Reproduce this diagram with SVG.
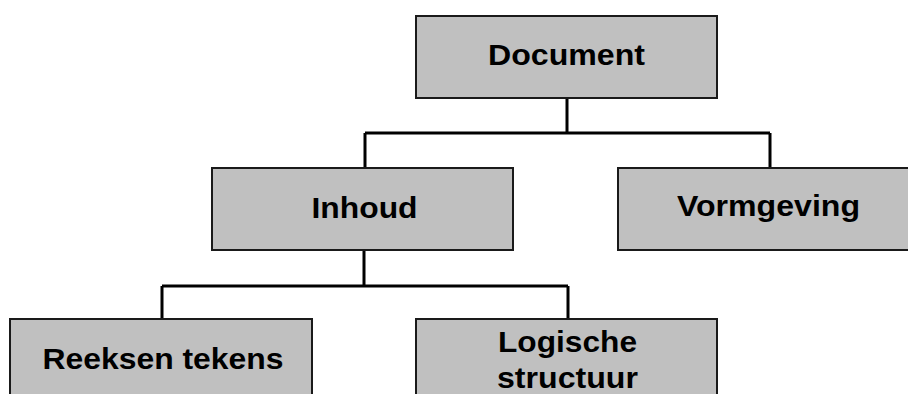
<svg xmlns="http://www.w3.org/2000/svg" width="908" height="394" viewBox="0 0 908 394">
<style>
.box{fill:#c0c0c0;stroke:#1a1a1a;stroke-width:2}
.lbl{font-family:"Liberation Sans",Arial,sans-serif;font-weight:bold;font-size:29px;fill:#000;text-anchor:middle}
.conn{fill:none;stroke:#000;stroke-width:3}
</style>
<rect width="908" height="394" fill="#fff"/>
<g id="connectors">
<path class="conn" d="M567,98 V133 M365,133 H770 M365,133 V168 M770,133 V168"/>
<path class="conn" d="M364,250 V286 M162,286 H568 M162,286 V319 M568,286 V319"/>
</g>
<g id="node-document">
<rect class="box" x="416" y="16" width="301" height="82"/>
<text class="lbl" x="566.5" y="65" textLength="157" lengthAdjust="spacingAndGlyphs">Document</text>
</g>
<g id="node-inhoud">
<rect class="box" x="212" y="168" width="301" height="82"/>
<text class="lbl" x="364.5" y="218" textLength="106" lengthAdjust="spacingAndGlyphs">Inhoud</text>
</g>
<g id="node-vormgeving">
<rect class="box" x="618" y="168" width="302" height="82"/>
<text class="lbl" x="768.5" y="216" textLength="183" lengthAdjust="spacingAndGlyphs">Vormgeving</text>
</g>
<g id="node-reeksen">
<rect class="box" x="10" y="319" width="302" height="90"/>
<text class="lbl" x="163" y="368.5" textLength="241" lengthAdjust="spacingAndGlyphs">Reeksen tekens</text>
</g>
<g id="node-logische">
<rect class="box" x="416" y="319" width="301" height="90"/>
<text class="lbl" x="567.5" y="352" textLength="139" lengthAdjust="spacingAndGlyphs">Logische</text>
<text class="lbl" x="567.5" y="388" textLength="141" lengthAdjust="spacingAndGlyphs">structuur</text>
</g>
</svg>
